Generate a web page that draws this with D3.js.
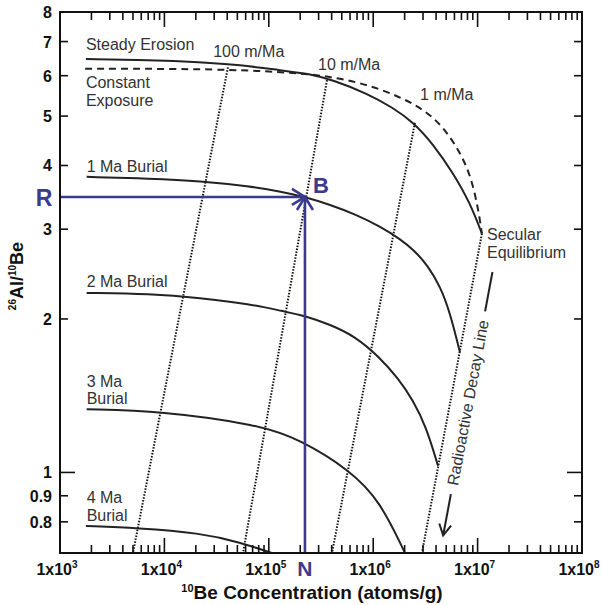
<!DOCTYPE html>
<html>
<head>
<meta charset="utf-8">
<script src="https://cdn.jsdelivr.net/npm/d3@7"></script>
<style>
  body { margin: 0; background: #fff; }
  svg { display: block; font-family: "Liberation Sans", Arial, sans-serif; }
</style>
</head>
<body>
<svg id="chart" width="602" height="605"></svg>
<script>
// Axis domains and tick labels
const xDomain = [1e3, 1e8];
const yDomain = [0.695, 8];
const xTickExponents = [3, 4, 5, 6, 7, 8];
const yTickValues = [0.8, 0.9, 1, 2, 3, 4, 5, 6, 7, 8];
const yTickLabels = ['0.8', '0.9', '1', '2', '3', '4', '5', '6', '7', '8'];

// Steady erosion curve (solid)
const steadyX = [1.77e3, 7.3e3, 2.19e4, 5.3e4, 1.28e5, 2.48e5, 4.12e5, 8.73e5, 1.55e6, 2.4e6, 3.74e6, 5.81e6, 8.45e6, 1.1e7];
const steadyY = [6.47, 6.44, 6.38, 6.30, 6.15, 6.05, 5.88, 5.54, 5.19, 4.87, 4.41, 3.87, 3.38, 2.94];

// Constant exposure curve (dashed)
const exposureX = [1.74e3, 2.19e4, 8.2e4, 1.99e5, 4.81e5, 1.16e6, 2.63e6, 4.37e6, 6.35e6, 8.45e6, 1.01e7, 1.1e7];
const exposureY = [6.19, 6.19, 6.13, 6.07, 5.94, 5.67, 5.26, 4.85, 4.35, 3.87, 3.31, 2.94];

// Burial curves
const burial1X = [1.8e3, 7.3e3, 2.19e4, 6.61e4, 1.28e5, 2.22e5, 3.86e5, 6.7e5, 1.16e6, 1.81e6, 2.51e6, 3.35e6, 4.37e6, 5.44e6, 6.78e6];
const burial1Y = [3.80, 3.77, 3.73, 3.64, 3.56, 3.47, 3.35, 3.21, 3.04, 2.87, 2.72, 2.54, 2.32, 2.06, 1.72];
const burial2X = [1.8e3, 7.3e3, 2.19e4, 6.61e4, 1.37e5, 2.22e5, 3.86e5, 6.7e5, 1.16e6, 1.73e6, 2.4e6, 3.21e6, 4.18e6];
const burial2Y = [2.25, 2.24, 2.20, 2.14, 2.07, 2.03, 1.95, 1.85, 1.68, 1.53, 1.387, 1.23, 1.03];
const burial3X = [1.8e3, 9.1e3, 8.2e4, 1.99e5, 6.0e5, 1.16e6, 2.05e6];
const burial3Y = [1.33, 1.32, 1.24, 1.16, 1.01, 0.88, 0.69];
const burial4X = [1.77e3, 5.47e3, 2.19e4, 5.3e4, 1.18e5];
const burial4Y = [0.785, 0.778, 0.761, 0.730, 0.69];

// Decay lines (dotted): start on steady erosion curve, end at bottom
const decayStartX = [4.06e4, 3.61e5, 2.51e6, 1.1e7];
const decayStartY = [6.23, 5.88, 4.85, 2.94];
const decayEndX = [5.0e3, 5.66e4, 4.03e5, 2.93e6];
const decayEndY = [0.695, 0.695, 0.695, 0.695];

// Sample point B
const sampleX = 2.22e5;
const sampleY = 3.47;

const svg = d3.select('#chart');
const plotLeft = 60, plotRight = 582, plotTop = 12, plotBottom = 553;

const x = d3.scaleLog().domain(xDomain).range([plotLeft, plotRight]);
const y = d3.scaleLog().domain(yDomain).range([plotBottom, plotTop]);

const blue = '#3b3a8c';
const ink = '#222';
const labelColor = '#333';

// clip for curves
svg.append('defs').append('clipPath').attr('id', 'plot-clip')
  .append('rect')
  .attr('x', plotLeft).attr('y', plotTop)
  .attr('width', plotRight - plotLeft).attr('height', plotBottom - plotTop);

const plot = svg.append('g').attr('clip-path', 'url(#plot-clip)');

const line = d3.line()
  .x(d => x(d[0]))
  .y(d => y(d[1]))
  .curve(d3.curveBasis);

const zip = (xs, ys) => xs.map((v, i) => [v, ys[i]]);

// dotted decay lines
decayStartX.forEach((sx, i) => {
  plot.append('line')
    .attr('x1', x(sx)).attr('y1', y(decayStartY[i]))
    .attr('x2', x(decayEndX[i])).attr('y2', y(decayEndY[i]))
    .attr('stroke', '#111')
    .attr('stroke-width', 2)
    .attr('stroke-dasharray', '1.5,1.5');
});

// constant exposure (dashed)
plot.append('path')
  .datum(zip(exposureX, exposureY))
  .attr('d', line)
  .attr('fill', 'none')
  .attr('stroke', ink)
  .attr('stroke-width', 2)
  .attr('stroke-dasharray', '7,5');

// steady erosion and burial curves (solid)
[[steadyX, steadyY], [burial1X, burial1Y], [burial2X, burial2Y], [burial3X, burial3Y], [burial4X, burial4Y]]
  .forEach(([xs, ys]) => {
    plot.append('path')
      .datum(zip(xs, ys))
      .attr('d', line)
      .attr('fill', 'none')
      .attr('stroke', ink)
      .attr('stroke-width', 2);
  });

// blue R -> B -> N arrows
const bx = x(sampleX), by = y(sampleY);
svg.append('line')
  .attr('x1', plotLeft).attr('y1', by).attr('x2', bx).attr('y2', by)
  .attr('stroke', blue).attr('stroke-width', 2.6);
svg.append('line')
  .attr('x1', bx).attr('y1', plotBottom).attr('x2', bx).attr('y2', by)
  .attr('stroke', blue).attr('stroke-width', 2.6);
svg.append('path')
  .attr('d', `M${bx - 13},${by - 8} L${bx},${by} L${bx - 13},${by + 8}`)
  .attr('fill', 'none').attr('stroke', blue).attr('stroke-width', 2.6);
svg.append('path')
  .attr('d', `M${bx - 8},${by + 13} L${bx},${by} L${bx + 8},${by + 13}`)
  .attr('fill', 'none').attr('stroke', blue).attr('stroke-width', 2.6);

svg.append('text').attr('x', 44).attr('y', by + 9)
  .attr('text-anchor', 'middle').attr('font-size', 23).attr('font-weight', 'bold')
  .attr('fill', blue).text('R');
svg.append('text').attr('x', bx + 8).attr('y', by - 4)
  .attr('font-size', 22).attr('font-weight', 'bold')
  .attr('fill', blue).text('B');
svg.append('text').attr('x', bx).attr('y', 576)
  .attr('text-anchor', 'middle').attr('font-size', 21).attr('font-weight', 'bold')
  .attr('fill', blue).text('N');

// frame
svg.append('rect')
  .attr('x', plotLeft).attr('y', plotTop)
  .attr('width', plotRight - plotLeft).attr('height', plotBottom - plotTop)
  .attr('fill', 'none').attr('stroke', '#111').attr('stroke-width', 2);

// x ticks (top and bottom, inward)
const axisG = svg.append('g').attr('stroke', '#111').attr('stroke-width', 1.6);
xTickExponents.forEach((e, i) => {
  const v = Math.pow(10, e);
  if (i > 0 && i < xTickExponents.length - 1) {
    axisG.append('line').attr('x1', x(v)).attr('x2', x(v)).attr('y1', plotBottom).attr('y2', plotBottom - 15);
    axisG.append('line').attr('x1', x(v)).attr('x2', x(v)).attr('y1', plotTop).attr('y2', plotTop + 15);
  }
  if (i < xTickExponents.length - 1) {
    for (let k = 2; k <= 9; k++) {
      const m = k * v;
      axisG.append('line').attr('x1', x(m)).attr('x2', x(m)).attr('y1', plotBottom).attr('y2', plotBottom - 8);
      axisG.append('line').attr('x1', x(m)).attr('x2', x(m)).attr('y1', plotTop).attr('y2', plotTop + 8);
    }
  }
});

// y ticks (left and right, inward)
yTickValues.forEach(v => {
  const len = v === 1 ? 15 : 8;
  if (v === 8) return;
  axisG.append('line').attr('x1', plotLeft).attr('x2', plotLeft + len).attr('y1', y(v)).attr('y2', y(v));
  axisG.append('line').attr('x1', plotRight).attr('x2', plotRight - len).attr('y1', y(v)).attr('y2', y(v));
});

// x tick labels
xTickExponents.forEach(e => {
  const t = svg.append('text')
    .attr('x', x(Math.pow(10, e)) - 3).attr('y', 575)
    .attr('text-anchor', 'middle')
    .attr('font-size', 16).attr('font-weight', 'bold').attr('fill', '#111');
  t.append('tspan').text('1x10');
  t.append('tspan').attr('font-size', 10).attr('dy', -7).text(e);
});

// y tick labels
yTickValues.forEach((v, i) => {
  svg.append('text')
    .attr('x', 52).attr('y', y(v) + 6)
    .attr('text-anchor', 'end')
    .attr('font-size', 16).attr('font-weight', 'bold').attr('fill', '#111')
    .text(yTickLabels[i]);
});

// axis titles
const xt = svg.append('text')
  .attr('x', 312).attr('y', 599)
  .attr('text-anchor', 'middle')
  .attr('font-size', 19).attr('font-weight', 'bold').attr('fill', '#111');
xt.append('tspan').attr('font-size', 11).attr('dy', -7).text('10');
xt.append('tspan').attr('dy', 7).text('Be Concentration (atoms/g)');

const yt = svg.append('text')
  .attr('transform', 'translate(23,276) rotate(-90)')
  .attr('text-anchor', 'middle')
  .attr('font-size', 18).attr('font-weight', 'bold').attr('fill', '#111');
yt.append('tspan').attr('font-size', 10).attr('dy', -7).text('26');
yt.append('tspan').attr('dy', 7).text('Al/');
yt.append('tspan').attr('font-size', 10).attr('dy', -7).text('10');
yt.append('tspan').attr('dy', 7).text('Be');

// curve labels
const labels = svg.append('g').attr('font-size', 16).attr('fill', labelColor);
const addLabel = (xv, yv, str) =>
  labels.append('text').attr('x', x(xv)).attr('y', y(yv)).text(str);

addLabel(1.77e3, 6.74, 'Steady Erosion');
addLabel(1.77e3, 5.67, 'Constant');
addLabel(1.77e3, 5.24, 'Exposure');
addLabel(1.8e3, 3.88, '1 Ma Burial');
addLabel(1.8e3, 2.31, '2 Ma Burial');
addLabel(1.8e3, 1.47, '3 Ma');
addLabel(1.8e3, 1.36, 'Burial');
addLabel(1.8e3, 0.871, '4 Ma');
addLabel(1.8e3, 0.803, 'Burial');
addLabel(2.93e4, 6.53, '100 m/Ma');
addLabel(2.96e5, 6.15, '10 m/Ma');
addLabel(2.81e6, 5.38, '1 m/Ma');
addLabel(1.23e7, 2.86, 'Secular');
addLabel(1.23e7, 2.63, 'Equilibrium');

// radioactive decay line label with arrow
const cx = x(8.09e6), cy = y(1.37);
const ang = -79.4;
const rad = ang * Math.PI / 180;
const ux = Math.cos(rad), uy = Math.sin(rad);
labels.append('text')
  .attr('transform', `translate(${cx},${cy}) rotate(${ang})`)
  .attr('text-anchor', 'middle')
  .attr('dominant-baseline', 'central')
  .text('Radioactive Decay Line');
const arrowG = svg.append('g').attr('stroke', ink).attr('stroke-width', 2).attr('fill', 'none');
arrowG.append('line')
  .attr('x1', cx + ux * 93).attr('y1', cy + uy * 93)
  .attr('x2', cx + ux * 133).attr('y2', cy + uy * 133);
const tipX = cx - ux * 135, tipY = cy - uy * 135;
arrowG.append('line')
  .attr('x1', cx - ux * 93).attr('y1', cy - uy * 93)
  .attr('x2', tipX).attr('y2', tipY);
// arrowhead pointing down along the line
const px = -uy, py = ux;
arrowG.append('path')
  .attr('d', `M${tipX + ux * 11 + px * 6},${tipY + uy * 11 + py * 6} L${tipX},${tipY} L${tipX + ux * 11 - px * 6},${tipY + uy * 11 - py * 6}`);
</script>
</body>
</html>
